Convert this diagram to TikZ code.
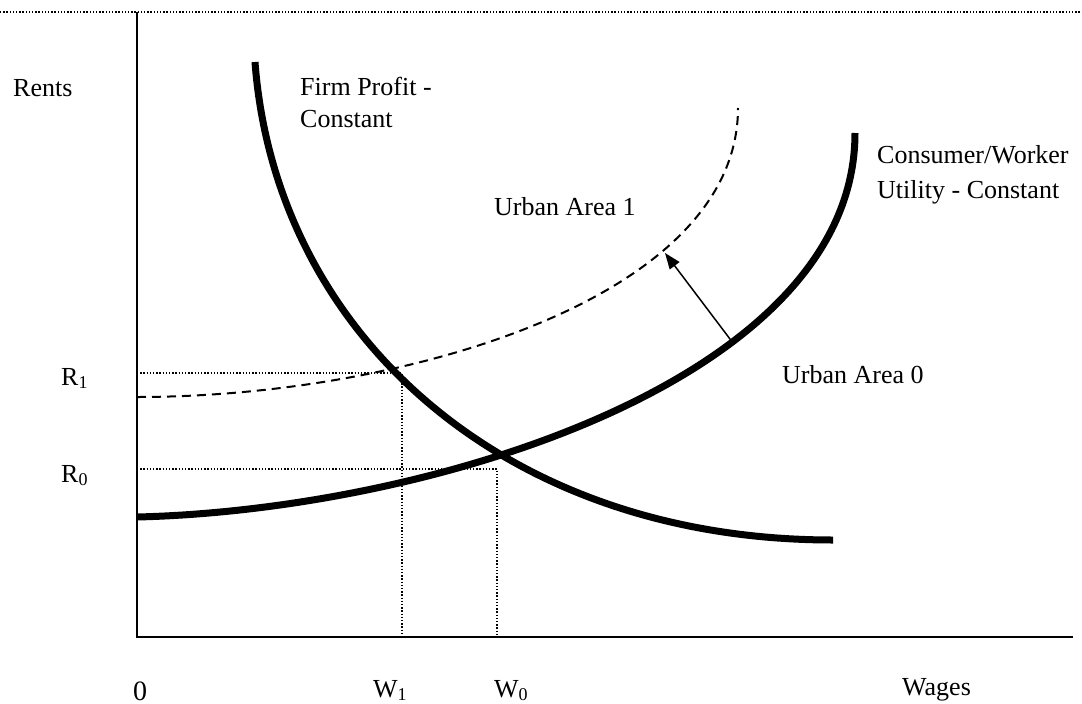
\documentclass[tikz,border=0pt]{standalone}
\usepackage{fontspec}
\setmainfont{Liberation Serif}
\usetikzlibrary{arrows.meta}
\newcommand{\lowsub}[1]{\raisebox{-0.14em}{\fontsize{18}{18}\selectfont #1}}
\begin{document}
\begin{tikzpicture}[x=1pt,y=-1pt,
  lbl/.style={inner sep=0pt,anchor=base west,font=\fontsize{26}{30}\selectfont},
  axisline/.style={line width=2pt},
  guide/.style={line width=1.3pt,dash pattern=on 1.3pt off 1.9pt},
  thickcurve/.style={line width=7pt},
  dashcurve/.style={line width=2pt,dash pattern=on 9pt off 6pt},
  shiftarrow/.style={line width=1.5pt,-{Triangle[length=16pt,width=12pt]}}]
\useasboundingbox (0,0) rectangle (1082,704);
% coordinates
\coordinate (tl) at (0,12);
\coordinate (tr) at (1082,12);
\coordinate (ytop) at (137,12);
\coordinate (orig) at (137,637);
\coordinate (xend) at (1073,637);
\coordinate (r1a) at (137,373);
\coordinate (r1b) at (402,373);
\coordinate (w1b) at (402,637);
\coordinate (r0a) at (137,469);
\coordinate (r0b) at (497,469);
\coordinate (w0b) at (497,637);
\coordinate (abase) at (733,343);
\coordinate (atip) at (665,253);
% curve end points
\coordinate (d0) at (137,397);
\coordinate (d1) at (738,108);
\coordinate (u0) at (137,517);
\coordinate (u1) at (855,133);
\coordinate (f0) at (255,62);
\coordinate (f1) at (833,540);
% top dotted rule
\draw[guide] (tl) -- (tr);
% axes
\draw[axisline] (ytop) -- (orig) -- (xend);
% guide lines
\draw[guide] (r1a) -- (r1b) -- (w1b);
\draw[guide] (r0a) -- (r0b) -- (w0b);
% dashed urban area 1
\draw[dashcurve] (d0) .. controls (400,397) and (738,300) .. (d1);
% utility curve (urban area 0)
\draw[thickcurve] (u0) .. controls (430,510) and (855,380) .. (u1);
% firm profit curve
\draw[thickcurve] (f0) .. controls (275,330) and (500,540) .. (f1);
% shift arrow
\draw[shiftarrow] (abase) -- (atip);
% labels
\node[lbl] (rents) at (13,96) {Rents};
\node[lbl] (firm1) at (300,95) {Firm Profit -};
\node[lbl] (firm2) at (300,127) {Constant};
\node[lbl] (ua1) at (494,215) {Urban Area 1};
\node[lbl] (cw1) at (877,163) {Consumer/Worker};
\node[lbl] (cw2) at (877,198) {Utility - Constant};
\node[lbl] (ua0) at (782,383) {Urban Area 0};
\node[lbl] (r1) at (61,385) {R\lowsub{1}};
\node[lbl] (r0) at (61,482) {R\lowsub{0}};
\node[lbl,font=\fontsize{28}{30}\selectfont] (zero) at (133,700) {0};
\node[lbl] (w1) at (373,697) {W\lowsub{1}};
\node[lbl] (w0) at (494,697) {W\lowsub{0}};
\node[lbl] (wages) at (902,695) {Wages};
\end{tikzpicture}
\end{document}
